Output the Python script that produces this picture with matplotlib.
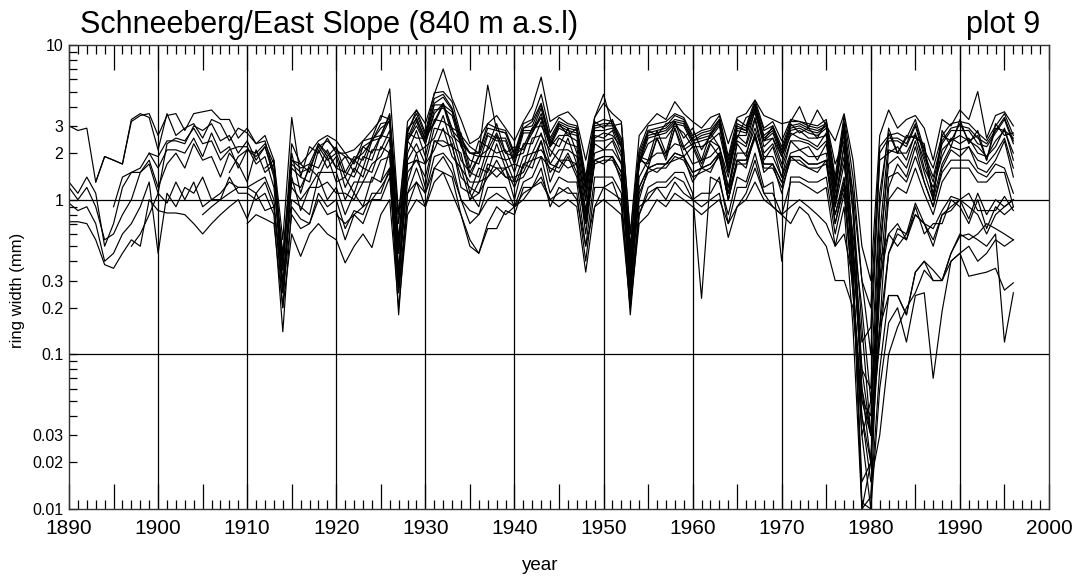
import numpy as np
import matplotlib
matplotlib.use("Agg")
import matplotlib.pyplot as plt
import matplotlib.ticker as ticker

plt.rcParams['font.family'] = ['Liberation Sans', 'DejaVu Sans']

# ring widths (mm) per tree, one value per year from the start year to 1996
start_a = 1890
tree_a = [3.0, 2.8, 2.9, 1.3, 1.9, 1.8, 1.7, 3.3, 3.6, 3.4,
          2.1, 3.6, 2.6, 2.9, 3.1, 2.5, 3.3, 3.1, 2.4, 2.9,
          2.7, 2.3, 2.4, 1.5, 0.45, 1.8, 1.7, 1.5, 2.3, 2.0,
          1.6, 1.9, 1.5, 2.2, 2.0, 2.6, 3.6, 0.7, 2.4, 3.0,
          2.3, 3.6, 4.2, 2.9, 2.7, 1.6, 2.4, 2.2, 3.1, 2.0,
          2.2, 2.1, 2.7, 3.4, 2.2, 3.1, 2.6, 2.9, 1.2, 3.2,
          2.9, 3.3, 2.2, 0.5, 1.7, 2.8, 2.6, 3.1, 3.2, 2.5,
          2.9, 2.1, 2.6, 3.3, 1.6, 2.5, 3.4, 3.6, 2.4, 3.0,
          2.0, 3.1, 2.7, 2.9, 2.5, 3.2, 1.7, 2.4, 1.1, 0.05,
          0.04, 0.9, 2.9, 2.0, 2.6, 2.5, 2.3, 1.0, 2.8, 2.2,
          3.3, 2.3, 2.8, 1.8, 3.1, 2.6, 2.7]

start_b = 1890
tree_b = [1.3, 1.1, 1.4, 1.1, 0.5, 0.7, 1.2, 1.5, 1.5, 1.8,
          1.2, 1.7, 2.0, 1.6, 2.3, 1.8, 1.9, 1.4, 2.0, 1.7,
          1.3, 2.1, 1.5, 1.7, 0.28, 1.3, 1.2, 1.6, 1.4, 1.9,
          1.3, 1.4, 1.1, 1.6, 1.5, 2.2, 2.0, 0.3, 2.4, 2.0,
          2.2, 2.5, 3.5, 2.2, 2.0, 1.1, 1.6, 1.5, 2.3, 1.6,
          1.7, 1.6, 2.5, 2.6, 2.1, 1.8, 2.5, 1.7, 0.75, 2.3,
          2.1, 2.4, 1.7, 0.22, 1.9, 1.6, 2.5, 1.8, 2.9, 1.9,
          2.2, 1.6, 2.3, 1.9, 1.1, 2.3, 1.9, 3.3, 1.8, 2.2,
          1.4, 2.4, 2.1, 2.2, 1.8, 2.3, 0.9, 2.3, 0.3, 0.015,
          0.02, 0.15, 1.2, 1.7, 1.4, 2.2, 1.3, 0.9, 1.6, 2.1,
          1.9, 2.2, 1.6, 1.5, 1.8, 2.4, 1.4]

start_c = 1890
tree_c = [0.95, 0.85, 0.9, 0.7, 0.4, 0.45, 0.6, 0.7, 0.9, 1.3,
          0.45, 1.1, 0.9, 1.2, 1.1, 1.4, 1.0, 1.1, 1.3, 1.2,
          1.2, 1.1, 1.3, 0.9, 0.3, 1.0, 0.9, 0.8, 1.4, 1.0,
          1.2, 0.8, 1.1, 0.9, 1.4, 1.3, 2.1, 0.35, 1.3, 2.0,
          1.2, 2.4, 2.2, 2.3, 1.2, 1.1, 0.9, 1.6, 1.4, 1.6,
          1.0, 1.7, 1.6, 2.4, 1.3, 1.8, 1.6, 1.7, 0.6, 1.8,
          1.7, 1.9, 1.3, 0.3, 1.0, 1.6, 1.5, 1.7, 1.8, 1.9,
          1.3, 1.6, 1.5, 2.0, 1.0, 1.8, 1.6, 2.7, 1.5, 1.7,
          1.1, 1.9, 1.7, 1.6, 1.5, 1.8, 0.7, 1.3, 0.45, 0.08,
          0.03, 0.12, 0.45, 0.6, 0.55, 0.9, 0.6, 0.7, 0.7, 1.0,
          0.9, 0.7, 1.0, 0.65, 0.9, 0.8, 0.9]

start_d = 1890
tree_d = [0.72, 0.72, 0.7, 0.55, 0.38, 0.36, 0.45, 0.55, 0.5, 1.0,
          0.85, 0.82, 0.82, 0.8, 0.7, 0.6, 0.7, 0.8, 0.9, 1.0,
          0.75, 1.1, 0.85, 0.9, 0.25, 0.8, 0.65, 0.7, 1.0, 0.8,
          0.85, 0.55, 0.8, 0.7, 1.0, 1.0, 1.4, 0.25, 0.9, 1.3,
          0.9, 1.6, 1.5, 1.4, 0.8, 0.55, 0.45, 0.65, 0.65, 0.85,
          0.8, 1.2, 1.2, 1.6, 0.9, 1.2, 1.1, 1.1, 0.4, 1.2,
          1.2, 1.3, 0.9, 0.25, 0.8, 1.1, 1.2, 1.2, 1.4, 1.3,
          1.0, 1.1, 1.1, 1.4, 0.7, 1.2, 1.2, 1.8, 1.1, 1.1,
          0.8, 1.3, 1.3, 1.2, 1.1, 1.2, 0.5, 0.9, 0.15, 0.01,
          0.012, 0.08, 0.24, 0.24, 0.18, 0.34, 0.4, 0.35, 0.3, 0.45,
          0.6, 0.55, 0.6, 0.7, 0.65, 0.6, 0.55]

start_e = 1890
tree_e = [1.2, 1.0, 1.2, 0.9, 0.55, 0.6, 0.8, 1.0, 1.5, 1.7,
          1.1, 2.3, 2.5, 2.4, 2.9, 2.3, 2.4, 1.8, 2.1, 2.2,
          2.2, 1.7, 1.9, 1.2, 0.35, 2.0, 1.1, 1.7, 1.6, 2.1,
          1.6, 1.5, 1.4, 1.9, 1.8, 2.6, 2.5, 0.45, 2.7, 2.5,
          2.5, 3.1, 4.1, 2.6, 2.3, 1.4, 1.9, 1.9, 2.6, 1.8,
          1.9, 2.0, 2.9, 3.0, 2.4, 2.2, 2.9, 2.0, 1.0, 2.6,
          2.5, 2.8, 2.0, 0.3, 1.9, 1.8, 2.8, 2.0, 3.2, 2.2,
          2.5, 1.8, 2.7, 2.2, 1.4, 2.6, 2.3, 3.8, 2.2, 2.5,
          1.7, 2.7, 2.5, 2.4, 2.2, 2.7, 1.1, 2.7, 0.5, 0.12,
          0.15, 1.8, 2.0, 2.2, 1.8, 2.7, 1.6, 1.2, 1.9, 2.5,
          2.3, 2.5, 2.0, 1.9, 2.2, 2.9, 1.8]

start_f = 1893
tree_f = [1.3, 1.9, 1.8, 1.7, 3.2, 3.5, 3.6,
          2.6, 3.5, 3.6, 2.8, 3.6, 3.7, 3.8, 3.3, 3.3, 2.5,
          2.9, 2.3, 2.6, 1.8, 0.55, 3.4, 1.4, 2.2, 2.0, 2.5,
          2.0, 2.0, 1.7, 2.4, 2.5, 3.5, 3.3, 0.8, 2.7, 3.8,
          2.7, 4.9, 5.0, 4.3, 2.6, 2.2, 2.0, 3.1, 2.9, 2.8,
          2.0, 3.1, 3.3, 4.8, 2.7, 3.4, 3.1, 3.0, 1.4, 3.4,
          4.8, 3.0, 3.1, 0.6, 2.1, 3.0, 3.1, 3.2, 3.6, 3.4,
          2.6, 2.8, 2.9, 3.5, 1.9, 3.3, 3.0, 4.4, 2.9, 3.2,
          2.4, 3.3, 3.2, 3.1, 3.0, 3.3, 1.4, 3.5, 1.4, 0.3,
          0.2, 2.2, 2.6, 2.7, 2.5, 3.3, 2.1, 1.6, 2.6, 3.1,
          3.2, 3.1, 2.7, 2.4, 3.0, 3.6, 2.6]

start_g = 1895
tree_g = [0.9, 1.4, 1.5, 1.6, 2.0,
          1.6, 2.1, 2.1, 2.0, 2.5, 1.9, 2.7, 2.0, 2.2, 1.6,
          2.1, 1.9, 2.2, 1.4, 0.25, 1.6, 1.4, 1.3, 2.1, 1.6,
          1.9, 1.2, 1.6, 1.4, 2.1, 2.1, 2.8, 0.35, 2.0, 2.8,
          1.9, 3.3, 3.2, 2.9, 1.8, 1.5, 1.4, 2.2, 2.0, 2.1,
          1.5, 2.3, 2.3, 3.2, 1.9, 2.5, 2.3, 2.2, 0.85, 2.4,
          2.4, 2.5, 1.9, 0.25, 1.8, 1.7, 2.5, 1.9, 2.9, 2.1,
          2.3, 1.7, 2.4, 2.2, 1.2, 2.4, 2.2, 3.4, 2.0, 2.3,
          1.6, 2.4, 2.4, 2.3, 2.1, 2.4, 1.0, 1.9, 0.35, 0.01,
          0.02, 0.5, 1.7, 1.9, 1.6, 2.4, 1.5, 1.0, 1.7, 2.2,
          2.1, 2.2, 1.8, 1.7, 2.0, 2.5, 1.6]

start_h = 1897
tree_h = [0.5, 0.6, 0.8,
          1.1, 0.95, 1.3, 1.0, 1.3, 0.9, 1.0, 1.0, 1.4, 1.1,
          1.1, 1.0, 1.1, 0.8, 0.14, 0.9, 0.75, 0.7, 1.1, 0.9,
          1.0, 0.65, 0.85, 0.8, 1.1, 1.1, 1.6, 0.18, 1.1, 1.6,
          1.1, 1.9, 2.0, 1.7, 1.0, 0.85, 0.8, 1.2, 1.2, 1.2,
          0.9, 1.3, 1.4, 1.9, 1.1, 1.4, 1.3, 1.3, 0.5, 1.4,
          1.4, 1.4, 1.1, 0.18, 0.8, 1.2, 1.3, 1.3, 1.5, 1.5,
          1.1, 0.23, 1.4, 1.3, 0.8, 1.4, 1.3, 2.0, 1.2, 1.3,
          0.4, 1.4, 1.4, 1.3, 1.3, 1.4, 0.6, 1.1, 0.25, 0.03,
          0.01, 0.06, 0.16, 0.2, 0.12, 0.24, 0.25, 0.07, 0.19, 0.4,
          0.45, 0.32, 0.33, 0.34, 0.36, 0.26, 0.29]

start_i = 1899
tree_i = [2.0,
          1.9, 2.4, 2.4, 2.3, 3.0, 2.8, 3.1, 2.4, 2.6, 2.0,
          2.4, 1.8, 2.2, 1.5, 0.4, 1.7, 1.5, 1.6, 2.2, 1.8,
          2.0, 1.4, 1.8, 1.6, 2.4, 2.5, 3.3, 0.5, 2.4, 3.2,
          2.3, 3.8, 3.9, 3.5, 2.2, 1.8, 1.7, 2.6, 2.4, 2.4,
          1.7, 2.7, 2.7, 3.6, 2.2, 2.9, 2.7, 2.6, 1.1, 2.8,
          2.8, 2.9, 2.2, 0.45, 1.7, 2.5, 2.6, 2.7, 3.1, 3.0,
          2.3, 2.4, 2.5, 3.0, 1.5, 2.8, 2.7, 3.9, 2.4, 2.7,
          1.9, 2.8, 2.9, 2.7, 2.6, 2.9, 1.2, 2.9, 0.9, 0.15,
          0.03, 0.15, 0.24, 0.24, 0.18, 0.34, 0.4, 0.3, 0.3, 0.45,
          0.58, 0.6, 0.55, 0.5, 0.6, 0.12, 0.25]

start_j = 1905
tree_j = [0.8, 0.9, 1.0, 1.1, 1.2,
          1.2, 1.3, 1.4, 1.0, 0.2, 1.4, 0.85, 1.2, 1.2, 1.3,
          1.1, 1.1, 1.0, 1.3, 1.3, 1.8, 1.9, 0.28, 1.7, 1.8,
          1.7, 2.1, 2.9, 1.9, 1.6, 1.0, 1.3, 1.4, 1.8, 1.4,
          1.4, 1.5, 2.0, 2.1, 1.7, 1.6, 2.0, 1.5, 0.7, 1.8,
          1.9, 1.9, 1.5, 0.28, 1.2, 1.6, 1.7, 1.7, 2.0, 1.9,
          1.5, 1.6, 1.7, 2.0, 1.1, 1.8, 1.8, 2.6, 1.7, 1.7,
          1.3, 1.9, 1.9, 1.7, 1.7, 1.8, 0.8, 1.4, 0.5, 0.06,
          0.02, 0.4, 0.6, 0.7, 0.55, 0.8, 0.7, 0.55, 0.8, 0.85,
          1.0, 0.75, 1.1, 0.8, 1.0, 0.9, 1.0]

start_k = 1908
tree_k = [1.5, 1.9,
          2.1, 2.0, 2.3, 1.7, 0.35, 1.8, 1.6, 1.7, 2.3, 1.9,
          2.2, 1.5, 1.9, 1.8, 2.5, 2.6, 3.5, 0.45, 2.5, 3.4,
          2.4, 4.1, 4.1, 3.7, 2.3, 2.0, 1.9, 2.7, 2.5, 2.5,
          1.8, 2.8, 2.8, 3.9, 2.3, 3.0, 2.8, 2.7, 1.2, 2.9,
          3.0, 3.0, 2.3, 0.35, 1.8, 2.6, 2.7, 2.8, 3.2, 3.1,
          2.4, 2.5, 2.6, 3.1, 1.6, 2.9, 2.8, 4.1, 2.5, 2.8,
          2.0, 2.9, 3.0, 2.8, 2.7, 3.0, 1.2, 3.0, 0.8, 0.08,
          0.06, 1.1, 2.7, 2.0, 2.5, 2.6, 2.2, 1.0, 2.6, 2.4,
          3.1, 2.4, 2.6, 1.8, 2.9, 2.8, 2.5]

start_l = 1910
tree_l = [0.7, 0.8, 0.75, 0.7, 0.2, 0.6, 0.43, 0.6, 0.7, 0.6,
          0.55, 0.39, 0.5, 0.6, 0.49, 0.8, 1.0, 0.2, 0.8, 1.0,
          0.9, 1.3, 1.5, 1.1, 0.8, 0.5, 0.45, 0.7, 0.9, 0.8,
          0.9, 1.1, 1.2, 1.3, 1.0, 0.9, 1.0, 0.9, 0.34, 0.9,
          1.2, 1.1, 1.0, 0.2, 0.9, 1.0, 1.2, 1.0, 1.3, 1.1,
          1.0, 0.9, 1.0, 1.1, 0.57, 0.9, 1.1, 1.6, 1.1, 0.9,
          0.8, 0.7, 0.9, 0.8, 0.6, 0.5, 0.3, 0.3, 0.2, 0.04,
          0.015, 0.03, 0.1, 0.15, 0.2, 0.25, 0.35, 0.3, 0.3, 0.4,
          0.45, 0.5, 0.4, 0.45, 0.55, 0.5, 0.55]

start_m = 1912
tree_m = [1.6, 1.8, 0.4, 2.3, 1.7, 2.0, 2.4, 2.6,
          2.4, 2.0, 2.1, 2.4, 2.8, 3.3, 5.2, 0.8, 3.2, 3.8,
          3.1, 4.8, 7.0, 4.5, 3.3, 2.3, 2.5, 3.1, 3.5, 2.9,
          2.4, 3.2, 4.0, 6.2, 3.2, 3.5, 3.7, 3.2, 1.8, 3.4,
          4.2, 3.6, 3.2, 0.6, 2.6, 3.1, 3.6, 3.3, 4.3, 3.6,
          3.2, 2.9, 3.4, 3.6, 2.3, 3.4, 3.6, 4.4, 3.5, 3.3,
          3.1, 3.2, 4.0, 2.9, 3.8, 3.0, 2.4, 3.6, 1.8, 0.5,
          0.3, 2.6, 3.8, 2.9, 3.3, 3.5, 2.9, 1.8, 3.3, 3.0,
          3.8, 3.3, 5.0, 2.5, 3.5, 3.7, 3.0]

start_n = 1915
tree_n = [1.2, 1.0, 1.2, 1.5, 1.5,
          1.5, 1.0, 1.3, 1.3, 1.7, 1.9, 2.5, 0.3, 1.8, 2.3,
          1.7, 2.9, 2.8, 2.5, 1.6, 1.3, 1.3, 1.9, 1.9, 1.8,
          1.3, 1.9, 2.0, 2.7, 1.7, 2.1, 2.1, 1.9, 0.8, 2.0,
          2.1, 2.1, 1.7, 0.3, 1.4, 1.8, 2.0, 2.0, 2.3, 2.2,
          1.7, 1.8, 1.9, 2.2, 1.2, 2.0, 2.0, 2.9, 1.9, 1.9,
          1.4, 2.0, 2.1, 1.9, 1.9, 2.0, 0.9, 1.7, 0.6, 0.2,
          0.05, 0.3, 1.4, 1.5, 1.3, 1.9, 1.3, 0.9, 1.5, 1.8,
          1.8, 1.8, 1.5, 1.4, 1.7, 1.6, 1.1]

start_o = 1918
tree_o = [2.2, 2.4,
          2.1, 1.9, 1.8, 2.2, 2.4, 3.1, 3.2, 0.55, 2.8, 3.6,
          2.6, 4.5, 4.8, 3.9, 2.5, 2.0, 2.0, 5.5, 2.8, 2.7,
          2.0, 2.9, 3.2, 4.2, 2.5, 3.2, 3.0, 2.9, 1.3, 3.1,
          3.3, 3.2, 2.5, 0.5, 2.0, 2.8, 2.9, 3.0, 3.5, 3.3,
          2.5, 2.7, 2.8, 3.3, 1.8, 3.1, 2.9, 4.2, 2.8, 3.0,
          2.2, 3.2, 3.2, 3.0, 2.9, 3.1, 1.3, 3.2, 1.1, 0.3,
          0.1, 2.0, 2.5, 2.5, 2.3, 3.1, 2.0, 1.4, 2.4, 2.9,
          3.0, 2.9, 2.5, 2.3, 2.8, 3.4, 2.4]

start_p = 1920
tree_p = [0.8, 0.7, 0.8, 0.9, 1.0, 1.2, 1.5, 0.25, 1.1, 1.3,
          1.1, 1.6, 1.9, 1.5, 1.0, 0.7, 0.8, 1.0, 1.1, 1.0,
          0.9, 1.0, 1.2, 1.4, 1.0, 1.1, 1.2, 1.0, 0.5, 0.9,
          1.0, 0.9, 0.8, 0.2, 0.7, 0.8, 1.0, 0.9, 1.1, 1.0,
          0.9, 0.8, 0.9, 1.0, 0.7, 0.9, 1.0, 1.3, 1.0, 0.9,
          0.8, 0.9, 1.0, 0.9, 0.8, 0.7, 0.5, 0.6, 0.3, 0.03,
          0.05, 0.3, 0.6, 0.5, 0.6, 0.8, 0.7, 0.5, 0.8, 0.9,
          1.0, 0.9, 0.8, 0.6, 0.8, 0.9, 1.0]

start_q = 1922
tree_q = [1.8, 2.0, 2.4, 2.9, 3.2, 0.45, 2.9, 3.3,
          2.5, 4.2, 4.6, 3.8, 2.4, 2.0, 2.0, 2.9, 2.8, 2.7,
          1.9, 2.9, 3.0, 4.1, 2.4, 3.1, 2.9, 2.8, 1.2, 3.0,
          3.1, 3.1, 2.4, 0.4, 1.9, 2.7, 2.8, 2.9, 3.3, 3.2,
          2.4, 2.6, 2.7, 3.2, 1.7, 3.0, 2.8, 4.1, 2.6, 2.9,
          2.1, 3.0, 3.1, 2.9, 2.8, 3.0, 1.2, 3.1, 0.5, 0.06,
          0.03, 0.6, 2.4, 2.4, 2.2, 3.0, 1.9, 1.3, 2.3, 2.8,
          2.8, 2.8, 2.3, 2.2, 2.7, 3.3, 2.3]

start_r = 1925
tree_r = [1.3, 1.6, 0.3, 1.5, 1.8,
          1.4, 2.4, 2.4, 2.2, 1.4, 1.2, 1.1, 1.7, 1.6, 1.6,
          1.2, 1.7, 1.8, 2.4, 1.5, 1.8, 1.8, 1.7, 0.7, 1.8,
          1.9, 1.9, 1.5, 0.25, 1.2, 1.6, 1.7, 1.7, 2.0, 1.9,
          1.5, 1.6, 1.7, 2.0, 1.0, 1.8, 1.8, 2.6, 1.7, 1.7,
          1.3, 1.9, 1.9, 1.7, 1.7, 1.8, 0.8, 1.3, 0.3, 0.04,
          0.02, 0.25, 1.0, 1.2, 1.1, 1.6, 1.1, 0.8, 1.3, 1.6,
          1.6, 1.6, 1.3, 1.3, 1.5, 1.5, 0.9]

start_s = 1930
tree_s = [2.5, 3.2, 4.2, 2.8, 2.4, 1.5, 1.9, 2.1, 2.7, 2.0,
          1.9, 2.2, 2.9, 3.4, 2.2, 2.6, 2.6, 2.4, 1.0, 2.5,
          2.7, 2.6, 2.2, 0.35, 1.7, 2.3, 2.5, 2.5, 3.0, 2.7,
          2.2, 2.2, 2.4, 2.7, 1.5, 2.6, 2.6, 3.7, 2.4, 2.5,
          1.9, 2.6, 2.8, 2.5, 2.5, 2.6, 1.0, 2.2, 0.4, 0.011,
          0.01, 0.4, 2.1, 2.0, 2.0, 2.6, 1.8, 1.1, 2.1, 2.4,
          2.6, 2.4, 2.2, 1.9, 2.4, 2.8, 2.0]

start_t = 1935
tree_t = [1.0, 1.1, 1.4, 1.6, 1.4,
          1.3, 1.4, 1.8, 1.9, 1.6, 1.5, 1.9, 1.4, 0.7, 1.7,
          1.8, 1.8, 1.4, 0.27, 1.1, 1.5, 1.6, 1.6, 1.9, 1.8,
          1.4, 1.5, 1.6, 1.9, 1.0, 1.7, 1.7, 2.5, 1.6, 1.6,
          1.2, 1.8, 1.8, 1.6, 1.6, 1.7, 0.7, 1.2, 0.25, 0.05,
          0.03, 0.15, 0.45, 0.65, 0.6, 0.95, 0.7, 0.65, 0.85, 1.05,
          1.0, 1.1, 0.85, 0.85, 0.85, 1.05, 0.85]

series = [(start_a, tree_a), (start_b, tree_b), (start_c, tree_c),
          (start_d, tree_d), (start_e, tree_e), (start_f, tree_f),
          (start_g, tree_g), (start_h, tree_h), (start_i, tree_i),
          (start_j, tree_j), (start_k, tree_k), (start_l, tree_l),
          (start_m, tree_m), (start_n, tree_n), (start_o, tree_o),
          (start_p, tree_p), (start_q, tree_q), (start_r, tree_r),
          (start_s, tree_s), (start_t, tree_t)]

last_year = 1996
for start, vals in series:
    assert start + len(vals) - 1 == last_year, (start, len(vals))

fig = plt.figure(figsize=(10.8, 5.78), dpi=100)
ax = fig.add_axes([69 / 1080, 1 - 509 / 578, 980 / 1080, 464 / 578])

for start, vals in series:
    years = np.arange(start, start + len(vals))
    ax.plot(years, vals, color='black', lw=0.85)

ax.set_yscale('log')
ax.set_xlim(1890, 2000)
ax.set_ylim(0.01, 10)

# decade grid like the original IDL plot
for yr in range(1900, 2000, 10):
    ax.axvline(yr, color='black', lw=0.9)
for yv in (0.1, 1):
    ax.axhline(yv, color='black', lw=0.9)

ax.xaxis.set_major_locator(ticker.MultipleLocator(5))
ax.xaxis.set_minor_locator(ticker.MultipleLocator(1))
ax.xaxis.set_major_formatter(ticker.FuncFormatter(
    lambda v, p: '%d' % v if int(round(v)) % 10 == 0 else ''))
ax.tick_params(axis='x', which='major', direction='in', length=18, width=0.9,
               top=True, bottom=True, labelsize=15, pad=7)
ax.tick_params(axis='x', which='minor', direction='in', length=6.5, width=0.9,
               top=True, bottom=True)

ylab_vals = [0.01, 0.02, 0.03, 0.1, 0.2, 0.3, 1, 2, 3, 10]
ylab_text = ['0.01', '0.02', '0.03', '0.1', '0.2', '0.3', '1', '2', '3', '10']
ax.yaxis.set_major_locator(ticker.FixedLocator(ylab_vals))
ax.yaxis.set_major_formatter(ticker.FixedFormatter(ylab_text))
ax.yaxis.set_minor_locator(ticker.LogLocator(base=10, subs=np.arange(4, 10)))
ax.yaxis.set_minor_formatter(ticker.NullFormatter())
ax.tick_params(axis='y', which='both', direction='in', length=6, width=0.9,
               left=True, right=False, labelsize=11.5, pad=4)

for sp in ax.spines.values():
    sp.set_linewidth(1.0)
    sp.set_color('#333333')

fig.text(80 / 1080, 1 - 33 / 578, 'Schneeberg/East Slope (840 m a.s.l)',
         fontsize=22, ha='left', va='baseline')
fig.text(1040 / 1080, 1 - 33 / 578, 'plot 9', fontsize=22, ha='right', va='baseline')
fig.text(540 / 1080, 1 - 565 / 578, 'year', fontsize=13.5, ha='center', va='center')
fig.text(18 / 1080, 1 - 290 / 578, 'ring width (mm)', fontsize=12,
         rotation=90, ha='center', va='center')

fig.savefig('out.png', dpi=100)
